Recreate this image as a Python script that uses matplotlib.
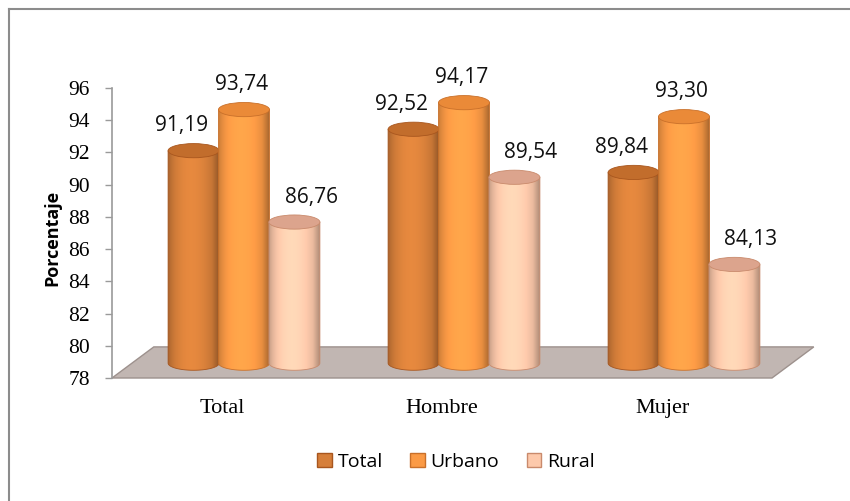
import numpy as np
import matplotlib
matplotlib.use("Agg")
import matplotlib.pyplot as plt
from matplotlib.patches import Polygon, Ellipse, Patch
from matplotlib.lines import Line2D
from matplotlib.colors import to_rgb

# datos
categorias = ["Total", "Hombre", "Mujer"]
series = ["Total", "Urbano", "Rural"]
total = [91.19, 92.52, 89.84]
urbano = [93.74, 94.17, 93.30]
rural = [86.76, 89.54, 84.13]
valores = [total, urbano, rural]
etiquetas = [["91,19", "92,52", "89,84"],
             ["93,74", "94,17", "93,30"],
             ["86,76", "89,54", "84,13"]]
yticks = [78, 80, 82, 84, 86, 88, 90, 92, 94, 96]

# estilo
col_cuerpo = ["#d67f3a", "#fb9a45", "#fdc9ab"]
col_tapa = ["#c26d2c", "#ea8a38", "#dca48d"]
col_borde = ["#a8561e", "#c9702a", "#c98a6c"]
ymin, ymax = 78, 96
prof = 0.92      # desplazamiento vertical por profundidad 3D
dx_grupo = 0.1   # desplazamiento horizontal de los grupos
sep = 0.229
ancho = 0.232
alto_elipse = 0.88
off_x = [-9, -2, 12]   # puntos
off_y = 18

fig = plt.figure(figsize=(8.5, 5.01), dpi=100)
ax = fig.add_axes([112/850, 123/501, 660/850, 290/501])

# piso
piso = Polygon([(-0.5, ymin), (2.5, ymin), (2.69, ymin + 1.93), (-0.31, ymin + 1.93)],
               closed=True, facecolor="#c1b6b2", edgecolor="#9d918d", lw=1.0,
               clip_on=False, zorder=1)
ax.add_patch(piso)

def sombra(n=60):
    u = np.linspace(0, 1, n)
    b = 0.76 + 0.32 * np.sin(np.pi * u ** 0.85) ** 0.7
    b = b - 0.12 * np.clip((u - 0.85) / 0.15, 0, 1)
    return b

z = 3
for i in range(3):
    for s in range(3):
        xc = i + dx_grupo + (s - 1) * sep
        x0, x1 = xc - ancho / 2, xc + ancho / 2
        yb = ymin + prof
        yt = valores[s][i] + prof
        t = np.linspace(np.pi, 2 * np.pi, 40)
        pts = [(x0, yt), (x0, yb)]
        pts += list(zip(xc + ancho / 2 * np.cos(t), yb + alto_elipse / 2 * np.sin(t)))
        pts += [(x1, yb), (x1, yt)]
        cuerpo = Polygon(pts, closed=True, facecolor="none",
                         edgecolor=col_borde[s], lw=0.6, zorder=z + 0.5)
        ax.add_patch(cuerpo)
        base = np.array(to_rgb(col_cuerpo[s]))
        img = np.clip(sombra()[:, None] * base[None, :], 0, 1)[None, :, :]
        im = ax.imshow(img, extent=[x0, x1, yb - alto_elipse, yt], aspect="auto",
                       interpolation="bilinear", zorder=z)
        im.set_clip_path(cuerpo)
        tapa = Ellipse((xc, yt), ancho, alto_elipse, facecolor=col_tapa[s],
                       edgecolor=col_borde[s], lw=0.6, zorder=z + 0.6)
        ax.add_patch(tapa)
        ax.annotate(etiquetas[s][i], (xc, yt), xytext=(off_x[s], off_y),
                    textcoords="offset points", ha="center", va="center",
                    fontsize=15, family="Open Sans", color="#111111",
                    zorder=20, annotation_clip=False)
        z += 1

ax.set_xlim(-0.5, 2.5)
ax.set_ylim(ymin, ymax)
ax.set_yticks(yticks)
ax.set_yticklabels([str(v) for v in yticks], family="Liberation Serif", fontsize=15.5)
ax.set_xticks(range(3))
ax.set_xticklabels(categorias, family="Liberation Serif", fontsize=16)
ax.tick_params(axis="x", length=0, pad=15)
ax.tick_params(axis="y", length=5, width=1, color="#9a9a9a", pad=11)
for lado in ["top", "right", "bottom"]:
    ax.spines[lado].set_visible(False)
ax.spines["left"].set_color("#9a9a9a")
ax.spines["left"].set_linewidth(1.2)
ax.patch.set_alpha(0)

fig.text(52/850, 1 - 238/501, "Porcentaje", rotation=90, ha="center", va="center",
         fontsize=13, fontweight="bold", family="Open Sans")

manejadores = [Patch(facecolor=col_cuerpo[s], edgecolor=col_borde[s], lw=1.0) for s in range(3)]
fig.legend(manejadores, series, loc="center", bbox_to_anchor=(456/850, 1 - 462/501),
           ncol=3, frameon=False, prop={"family": "Open Sans", "size": 14},
           handlelength=0.75, handleheight=0.75, handletextpad=0.3, columnspacing=1.4)

# marco exterior
fig.add_artist(Line2D([9/850, 9/850], [0, 1 - 9/501], transform=fig.transFigure,
                      color="#8c8c8c", lw=1.5))
fig.add_artist(Line2D([9/850, 1], [1 - 9/501, 1 - 9/501], transform=fig.transFigure,
                      color="#8c8c8c", lw=1.5))

fig.savefig("out.png", dpi=100)
